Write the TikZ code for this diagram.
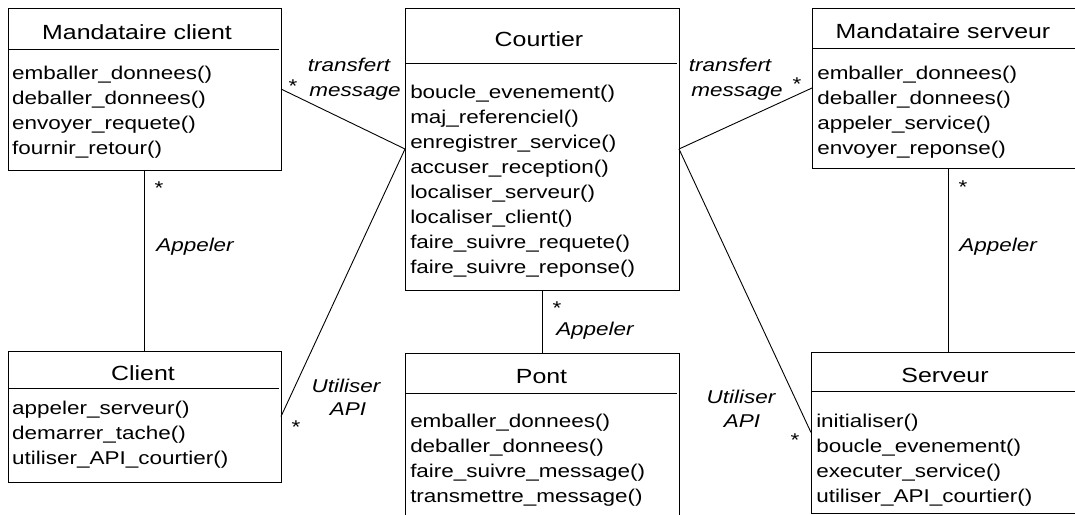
\documentclass[tikz,border=0pt]{standalone}
\usepackage{fontspec}
\setmainfont{Liberation Sans}
\begin{document}
\begin{tikzpicture}[x=1pt,y=-1pt,
  cls/.style={draw,line width=1pt,rectangle,inner sep=0pt,outer sep=0pt,anchor=north west},
  ttl/.style={anchor=base,inner sep=0pt,xscale=1.215,font=\fontsize{20.5}{25}\selectfont},
  meth/.style={anchor=base west,inner sep=0pt,xscale=1.215,font=\fontsize{18.5}{25}\selectfont},
  lbl/.style={anchor=base,inner sep=0pt,xscale=1.215,font=\fontsize{18.5}{25}\selectfont\itshape},
  star/.style={anchor=base,inner sep=0pt,xscale=1.215,font=\fontsize{18.5}{25}\selectfont},
  sep/.style={line width=1pt},
  conn/.style={line width=0.9pt}]
\useasboundingbox (0,0) rectangle (1075,514);
\clip (0,0) rectangle (1075,514);
\fill[white] (0,0) rectangle (1075,514);

% class boxes
\node[cls,minimum width=273pt,minimum height=162pt] (mc) at (8,8) {};
\node[cls,minimum width=274pt,minimum height=282pt] (co) at (405,8) {};
\node[cls,minimum width=272pt,minimum height=160pt] (ms) at (812,8) {};
\node[cls,minimum width=273pt,minimum height=131pt] (cl) at (8,351) {};
\node[cls,minimum width=274pt,minimum height=170pt] (po) at (405,353) {};
\node[cls,minimum width=274pt,minimum height=161pt] (se) at (811,352) {};

% separators
\draw[sep] (8,49) -- (279,49);
\draw[sep] (405,63) -- (677,63);
\draw[sep] (812,48) -- (1084,48);
\draw[sep] (8,388) -- (279,388);
\draw[sep] (405,393) -- (677,393);
\draw[sep] (811,391) -- (1085,391);

% titles
\node[ttl] (mct) at (137,39) {Mandataire client};
\node[ttl] (cot) at (539,46) {Courtier};
\node[ttl] (mst) at (943,38) {Mandataire serveur};
\node[ttl] (clt) at (143,380) {Client};
\node[ttl] (pot) at (541.5,383) {Pont};
\node[ttl] (set) at (945,382) {Serveur};

% methods
\foreach \t [count=\i from 0] in {emballer\_donnees(),deballer\_donnees(),envoyer\_requete(),fournir\_retour()}
  \node[meth] (mcm\i) at (12,79+25*\i) {\t};
\foreach \t [count=\i from 0] in {boucle\_evenement(),maj\_referenciel(),enregistrer\_service(),accuser\_reception(),localiser\_serveur(),localiser\_client(),faire\_suivre\_requete(),faire\_suivre\_reponse()}
  \node[meth] (com\i) at (410,98+25*\i) {\t};
\foreach \t [count=\i from 0] in {emballer\_donnees(),deballer\_donnees(),appeler\_service(),envoyer\_reponse()}
  \node[meth] (msm\i) at (817,79+25*\i) {\t};
\foreach \t [count=\i from 0] in {appeler\_serveur(),demarrer\_tache(),utiliser\_API\_courtier()}
  \node[meth] (clm\i) at (12,414+25*\i) {\t};
\foreach \t [count=\i from 0] in {emballer\_donnees(),deballer\_donnees(),faire\_suivre\_message(),transmettre\_message()}
  \node[meth] (pom\i) at (410,427+25*\i) {\t};
\foreach \t [count=\i from 0] in {initialiser(),boucle\_evenement(),executer\_service(),utiliser\_API\_courtier()}
  \node[meth] (sem\i) at (816,427+25*\i) {\t};

% connectors
\draw[conn] (mc.east) -- (co.west);
\draw[conn] (cl.east) -- (co.west);
\draw[conn] (co.east) -- (ms.west);
\draw[conn] (co.east) -- (se.west);
\draw[conn] (mc.south) -- (cl.north);
\draw[conn] (co.south) -- (po.north);
\draw[conn] (ms.south) -- (se.north);

% labels
\node[lbl] (l1a) at (349,71) {transfert};
\node[lbl] (l1b) at (355,96) {message};
\node[star] (s1) at (293,92) {*};
\node[lbl] (l2a) at (730,71) {transfert};
\node[lbl] (l2b) at (737,96) {message};
\node[star] (s2) at (797,90) {*};
\node[star] (s3) at (159,194) {*};
\node[lbl] (l3) at (195,251) {Appeler};
\node[star] (s4) at (963,193) {*};
\node[lbl] (l4) at (998,251) {Appeler};
\node[star] (s5) at (557,314) {*};
\node[lbl,anchor=base west] (l5) at (556,335) {Appeler};
\node[lbl] (l6a) at (346,392) {Utiliser};
\node[lbl] (l6b) at (348,415) {API};
\node[star] (s6) at (296,433) {*};
\node[lbl] (l7a) at (741,403) {Utiliser};
\node[lbl] (l7b) at (742,427) {API};
\node[star] (s7) at (795,446) {*};
\end{tikzpicture}
\end{document}
